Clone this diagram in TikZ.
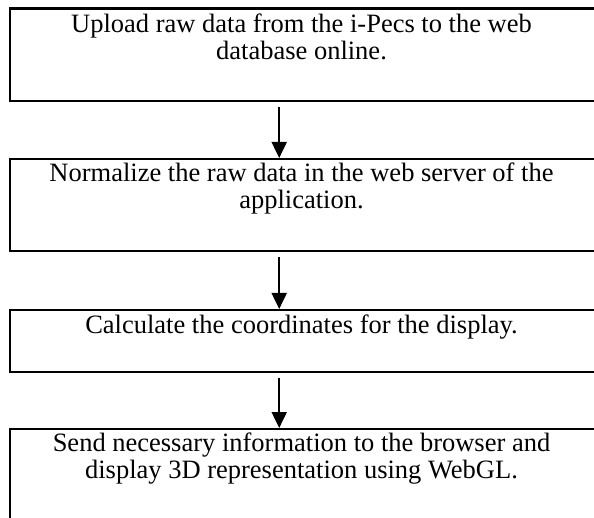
\documentclass[tikz,border=0pt]{standalone}
\usepackage{fontspec}
\setmainfont{Liberation Serif}
\usetikzlibrary{arrows.meta}
\begin{document}
\begin{tikzpicture}[x=1pt,y=1pt,
  box/.style={draw=black, line width=2.4pt, rectangle, minimum width=588.5pt, inner sep=0pt, anchor=north west},
  txt/.style={align=center, anchor=base, inner sep=0pt, font=\fontsize{26.5}{27}\selectfont},
  arr/.style={line width=2pt, -{Triangle[width=15pt,length=16pt]}}]
\useasboundingbox (0,0) rectangle (594,-518);
\clip (0,0) rectangle (594,-518);
\fill[white] (0,0) rectangle (594,-518);
\node[box, minimum height=92.5pt] (b1) at (8.5,-7.5) {};
\node[box, minimum height=92pt] (b2) at (8.5,-158) {};
\node[box, minimum height=61.5pt] (b3) at (8.5,-309) {};
\node[box, minimum height=140pt] (b4) at (8.5,-428) {};
\node[txt] (t1) at (301.5,-59.5) {Upload raw data from the i-Pecs to the web\\database online.};
\node[txt] (t2) at (301.5,-209) {Normalize the raw data in the web server of the\\application.};
\node[txt] (t3) at (301.5,-333.5) {Calculate the coordinates for the display.};
\node[txt] (t4) at (301.5,-478) {Send necessary information to the browser and\\display 3D representation using WebGL.};
\coordinate (a1s) at ([xshift=-24.75pt,yshift=-5pt]b1.south);
\coordinate (a2s) at ([xshift=-24.75pt,yshift=-5pt]b2.south);
\coordinate (a3s) at ([xshift=-24.75pt,yshift=-5pt]b3.south);
\draw[arr] (a1s) -- (a1s |- b2.north);
\draw[arr] (a2s) -- (a2s |- b3.north);
\draw[arr] (a3s) -- (a3s |- b4.north);
\end{tikzpicture}
\end{document}
